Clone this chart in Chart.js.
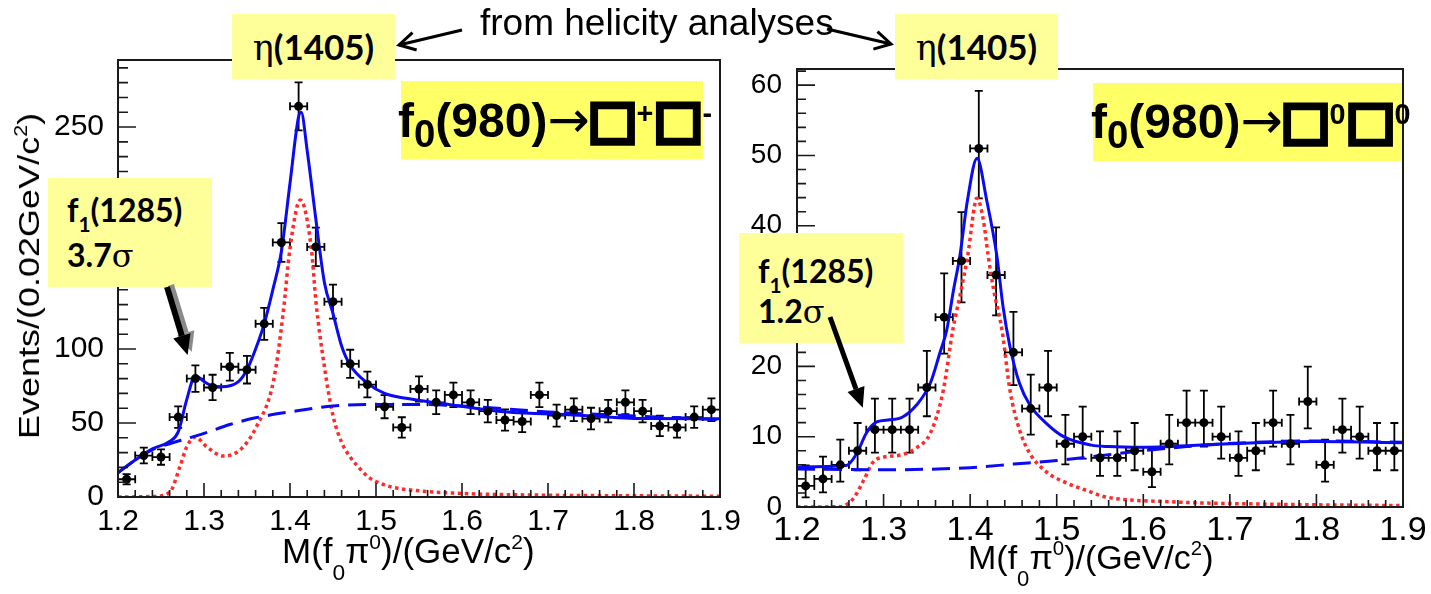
<!DOCTYPE html>
<html>
<head>
<meta charset="utf-8">
<script src="https://cdn.jsdelivr.net/npm/chart.js@4.4.1/dist/chart.umd.min.js"></script>
<style>
  html, body { margin: 0; padding: 0; background: #fff; }
  #stage { position: relative; width: 1431px; height: 594px; overflow: hidden;
           font-family: 'Liberation Sans', Arial, sans-serif; color: #000; }
  canvas { position: absolute; top: 0; }
  #cl { left: 0; }
  #cr { left: 740px; }
  .note { position: absolute; white-space: nowrap; line-height: 1; }
  .pale { position: absolute; background: #ffff99; }
  .bright { position: absolute; background: #ffff66; }
  .cal { font-family: Lato, 'Open Sans', sans-serif; font-weight: 700; }
  .greek { font-family: 'DejaVu Serif', 'Liberation Serif', serif; font-weight: 400; }
  .sb, .sp, .sq, .ar { position: relative; line-height: 0; }
  /* decay labels */
  .big { font-family: 'Liberation Sans', Arial, sans-serif; font-weight: 700; font-size: 48px; }
  .big .sb { font-size: 0.8em; top: 0.26em; }
  .big .sp { font-size: 0.6em; top: -0.47em; margin: 0 2px; }
  .big .ar { font-family: 'DejaVu Sans', sans-serif; font-weight: 400; font-size: 1.05em; }
  .big .sq { font-family: 'DejaVu Sans', sans-serif; font-size: 1.08em; -webkit-text-stroke: 5px #000;
             margin: 0 -2px; }
  /* axis titles */
  .axt .sb { font-size: 0.65em; top: 0.75em; }
  .axt .sp { font-size: 0.6em; top: -0.67em; }
  .cal .sb { font-size: 0.65em; top: 0.5em; }
  #arrows { position: absolute; left: 0; top: 0; }
</style>
</head>
<body>
<div id="stage">
  <canvas id="cl" width="740" height="594"></canvas>
  <canvas id="cr" width="691" height="594"></canvas>

  <!-- axis titles -->
  <div class="note axt" id="ytitle" style="left:29px; top:276px; font-size:30px;
       transform: translate(-50%, -50%) rotate(-90deg) scale(1.2, 1);">Events/(0.02GeV/c<span class="sp">2</span>)</div>
  <div class="note axt" style="left:282px; top:533px; font-size:35px;">M(f<span class="sb">0</span>π<span class="sp">0</span>)/(GeV/c<span class="sp">2</span>)</div>
  <div class="note axt" style="left:968px; top:540px; font-size:34px;">M(f<span class="sb">0</span>π<span class="sp">0</span>)/(GeV/c<span class="sp">2</span>)</div>

  <!-- helicity note and resonance labels -->
  <div class="note" style="left:480px; top:4px; font-size:37px;">from helicity analyses</div>
  <div class="pale" style="left:232px; top:14px; width:163px; height:65px;"></div>
  <div class="note cal" style="left:232px; top:29px; width:163px; text-align:center; font-size:35px;"><span class="greek">η</span>(1405)</div>
  <div class="pale" style="left:895px; top:14px; width:163px; height:65px;"></div>
  <div class="note cal" style="left:895px; top:29px; width:163px; text-align:center; font-size:35px;"><span class="greek">η</span>(1405)</div>

  <div class="bright" style="left:401px; top:81px; width:302px; height:78px;"></div>
  <div class="note big" style="left:398px; top:97px;">f<span class="sb">0</span>(980)<span class="ar">→</span><span class="sq">□</span><span class="sp">+</span><span class="sq">□</span><span class="sp">-</span></div>
  <div class="bright" style="left:1093px; top:83px; width:309px; height:78px;"></div>
  <div class="note big" style="left:1091px; top:98px;">f<span class="sb">0</span>(980)<span class="ar">→</span><span class="sq">□</span><span class="sp">0</span><span class="sq">□</span><span class="sp">0</span></div>

  <div class="pale" style="left:48px; top:178px; width:164px; height:109px;"></div>
  <div class="note cal" style="left:67px; top:194px; font-size:32px;">f<span class="sb">1</span>(1285)</div>
  <div class="note cal" style="left:67px; top:239px; font-size:32px;">3.7<span class="greek">σ</span></div>
  <div class="pale" style="left:739px; top:233px; width:164px; height:110px;"></div>
  <div class="note cal" style="left:758px; top:255px; font-size:32px;">f<span class="sb">1</span>(1285)</div>
  <div class="note cal" style="left:758px; top:295px; font-size:32px;">1.2<span class="greek">σ</span></div>

  <svg id="arrows" width="1431" height="594" xmlns="http://www.w3.org/2000/svg"></svg>
</div>

<script>
// ---- data: M(f0 pi0) spectra, 0.02 GeV/c^2 bins ----
const binCentres = [1.21, 1.23, 1.25, 1.27, 1.29, 1.31, 1.33, 1.35, 1.37, 1.39,
                    1.41, 1.43, 1.45, 1.47, 1.49, 1.51, 1.53, 1.55, 1.57, 1.59,
                    1.61, 1.63, 1.65, 1.67, 1.69, 1.71, 1.73, 1.75, 1.77, 1.79,
                    1.81, 1.83, 1.85, 1.87, 1.89];

// f0(980) -> pi+ pi- channel
const countsCharged = [12, 28, 27, 54, 80, 74, 88, 86, 117, 172,
                       264, 169, 132, 90, 76, 61, 47, 73, 64, 69,
                       64, 58, 52, 51, 69, 55, 59, 53, 58, 64,
                       58, 48, 47, 54, 59];
const errCharged = [3.5, 5.3, 5.2, 7.3, 8.9, 8.6, 9.4, 9.3, 10.8, 13.1,
                    16.2, 13.0, 11.5, 9.5, 8.7, 7.8, 6.9, 8.5, 8.0, 8.3,
                    8.0, 7.6, 7.2, 7.1, 8.3, 7.4, 7.7, 7.3, 7.6, 8.0,
                    7.6, 6.9, 6.9, 7.3, 7.7];
const fitChargedM = [1.20, 1.22, 1.24, 1.26, 1.27, 1.28, 1.29, 1.30, 1.31, 1.32,
                     1.34, 1.35, 1.36, 1.37, 1.38, 1.39, 1.40, 1.41, 1.413, 1.42,
                     1.43, 1.44, 1.45, 1.46, 1.47, 1.49, 1.51, 1.535, 1.575, 1.65,
                     1.73, 1.81, 1.90];
const fitChargedY = [16.4, 25, 32.5, 37.5, 44, 66, 82, 78, 75, 74.5,
                     78, 86, 100, 117, 140, 166, 212, 257, 260, 234,
                     188, 145, 124, 102, 89, 77, 70, 66.7, 63.3, 57.6,
                     55.4, 53, 52.8];
const bkgChargedM = [1.20, 1.22, 1.24, 1.26, 1.28, 1.30, 1.33, 1.36, 1.40, 1.45,
                     1.50, 1.55, 1.60, 1.70, 1.80, 1.90];
const bkgChargedY = [16.4, 25, 32, 36, 39.5, 43, 49, 53.5, 57.5, 61.5,
                     62.5, 62.5, 61.5, 57.5, 54.8, 52.3];
const sigChargedM = [1.20, 1.24, 1.26, 1.272, 1.28, 1.29, 1.303, 1.3225, 1.342, 1.361,
                     1.381, 1.392, 1.40, 1.412, 1.425, 1.43, 1.44, 1.45, 1.46, 1.47,
                     1.48, 1.49, 1.50, 1.52, 1.55, 1.60, 1.70, 1.80, 1.90];
const sigChargedY = [0, 0.3, 3, 20.5, 34, 40.5, 34, 27.7, 31.8, 47.5,
                     79, 124, 168, 200.7, 167, 133, 88, 55, 37, 27,
                     20, 14, 10.5, 6.5, 4.2, 2.4, 1.2, 0.8, 0.5];

// f0(980) -> pi0 pi0 channel
const countsNeutral = [3, 4, 6, 8, 11, 11, 11, 17, 27, 35,
                       51, 33, 22, 14, 17, 9, 10, 7, 7, 8,
                       5, 9, 12, 12, 10, 7, 8, 12, 9, 15,
                       6, 11, 10, 8, 8];
const errLoNeutral = [1.63, 1.91, 2.38, 2.77, 3.27, 3.27, 3.27, 4.09, 5.18, 5.90,
                      7.11, 5.73, 4.67, 3.70, 4.09, 2.94, 3.11, 2.58, 2.58, 2.77,
                      2.16, 2.94, 3.42, 3.42, 3.11, 2.58, 2.77, 3.42, 2.94, 3.83,
                      2.38, 3.27, 3.11, 2.77, 2.77];
const errHiNeutral = [2.92, 3.16, 3.58, 3.95, 4.42, 4.42, 4.42, 5.20, 6.23, 6.94,
                      8.19, 6.77, 5.74, 4.83, 5.20, 4.11, 4.27, 3.77, 3.77, 3.95,
                      3.38, 4.11, 4.56, 4.56, 4.27, 3.77, 3.95, 4.56, 4.11, 4.96,
                      3.58, 4.42, 4.27, 3.95, 3.95];
const fitNeutralM = [1.20, 1.257, 1.269, 1.28, 1.292, 1.307, 1.322, 1.338, 1.354, 1.365,
                     1.373, 1.381, 1.388, 1.397, 1.408, 1.419, 1.431, 1.438, 1.446, 1.457,
                     1.469, 1.488, 1.508, 1.54, 1.56, 1.60, 1.70, 1.80, 1.90];
const fitNeutralY = [5.7, 5.9, 7.6, 10.5, 12.1, 12.4, 12.8, 14.5, 17.6, 21.9,
                     25.2, 31, 35.6, 43.7, 49.6, 43.7, 35.6, 28.5, 22.8, 17.6,
                     14.5, 11.9, 10, 8.8, 8.6, 8.5, 9.0, 9.3, 9.15];
const bkgNeutralM = [1.20, 1.30, 1.40, 1.45, 1.50, 1.55, 1.60, 1.67, 1.75, 1.80, 1.90];
const bkgNeutralY = [5.4, 5.3, 5.6, 6.1, 6.6, 7.3, 8.0, 8.8, 9.3, 9.4, 9.2];
const sigNeutralM = [1.20, 1.25, 1.265, 1.277, 1.288, 1.30, 1.32, 1.338, 1.354, 1.369,
                     1.38, 1.389, 1.397, 1.408, 1.415, 1.421, 1.427, 1.437, 1.446, 1.457,
                     1.469, 1.488, 1.508, 1.538, 1.554, 1.631, 1.746, 1.90];
const sigNeutralY = [0, 0.05, 1.2, 3.8, 6.4, 7.1, 7.4, 8.4, 10.5, 16.6,
                     25.2, 30.5, 35.6, 43.9, 41, 35.6, 31, 25, 16.6, 11,
                     7.6, 5, 3.6, 2.2, 1.5, 0.75, 0.4, 0.2];

// tick labels
const massTicks = [1.2, 1.3, 1.4, 1.5, 1.6, 1.7, 1.8, 1.9];

// ---- plugins ----
const pairs = (xs, ys) => xs.map((x, i) => ({ x, y: ys[i] }));

// Vertical (statistical) and horizontal (bin width) error bars with end caps
const errorBars = {
  id: 'errorBars',
  beforeDatasetsDraw(chart) {
    const ds = chart.data.datasets[0];
    const { ctx, scales: { x, y } } = chart;
    const cap = 4;
    ctx.save();
    ctx.strokeStyle = '#000';
    ctx.lineWidth = 1.8;
    ctx.beginPath();
    ds.data.forEach((p, i) => {
      const px = x.getPixelForValue(p.x), py = y.getPixelForValue(p.y);
      const yl = y.getPixelForValue(p.y - ds.errLo[i]);
      const yh = y.getPixelForValue(p.y + ds.errHi[i]);
      const xl = x.getPixelForValue(p.x - ds.halfBin);
      const xr = x.getPixelForValue(p.x + ds.halfBin);
      ctx.moveTo(px, yl); ctx.lineTo(px, yh);
      ctx.moveTo(xl, py); ctx.lineTo(xr, py);
      ctx.moveTo(px - cap, yl); ctx.lineTo(px + cap, yl);
      ctx.moveTo(px - cap, yh); ctx.lineTo(px + cap, yh);
      ctx.moveTo(xl, py - cap); ctx.lineTo(xl, py + cap);
      ctx.moveTo(xr, py - cap); ctx.lineTo(xr, py + cap);
    });
    ctx.stroke();
    ctx.restore();
  }
};

// Closed frame with inward major/minor ticks on the left and bottom axes
function frameWithTicks(t) {
  return {
    id: 'frameWithTicks',
    afterDatasetsDraw(chart) {
      const { ctx, chartArea: a, scales: { x, y } } = chart;
      ctx.save();
      ctx.strokeStyle = '#1a1a1a';
      ctx.lineWidth = 1.6;
      ctx.beginPath();
      const nx = Math.round((x.max - x.min) / t.xMinor);
      for (let k = 0; k <= nx; k++) {
        const px = x.getPixelForValue(x.min + k * t.xMinor);
        const len = k % t.xPer === 0 ? t.xMajorLen : t.xMinorLen;
        ctx.moveTo(px, a.bottom); ctx.lineTo(px, a.bottom - len);
      }
      for (let k = 0; k * t.yMinor <= y.max + 1e-9; k++) {
        const py = y.getPixelForValue(k * t.yMinor);
        const len = k % t.yPer === 0 ? t.yMajorLen : t.yMinorLen;
        ctx.moveTo(a.left, py); ctx.lineTo(a.left + len, py);
      }
      ctx.stroke();
      ctx.lineWidth = 2;
      ctx.strokeRect(a.left, a.top, a.right - a.left, a.bottom - a.top);
      ctx.restore();
    }
  };
}

function makePanel(canvas, p) {
  return new Chart(canvas, {
    type: 'scatter',
    data: {
      datasets: [
        { label: 'Data', data: pairs(binCentres, p.counts), errLo: p.errLo, errHi: p.errHi, halfBin: 0.01,
          pointRadius: 4.5, pointBackgroundColor: '#000', pointBorderWidth: 0, order: 0 },
        { type: 'line', label: 'Total fit', data: pairs(p.fitM, p.fitY), borderColor: '#0a0af5',
          borderWidth: 3, pointRadius: 0, fill: false, cubicInterpolationMode: 'monotone', order: 1 },
        { type: 'line', label: 'Background', data: pairs(p.bkgM, p.bkgY), borderColor: '#0a0af5',
          borderWidth: 3, borderDash: [18, 9], pointRadius: 0, fill: false, cubicInterpolationMode: 'monotone', order: 2 },
        { type: 'line', label: 'Signal', data: pairs(p.sigM, p.sigY), borderColor: '#ff2a2a',
          borderWidth: 3.5, borderDash: [3.5, 3.5], pointRadius: 0, fill: false, cubicInterpolationMode: 'monotone', order: 3 }
      ]
    },
    options: {
      responsive: false,
      animation: false,
      events: [],
      layout: { padding: { left: 0, right: p.padRight, top: p.padTop, bottom: 0 } },
      plugins: { legend: { display: false }, tooltip: { enabled: false } },
      scales: {
        x: {
          type: 'linear', min: massTicks[0], max: massTicks[massTicks.length - 1],
          grid: { display: false }, border: { display: false },
          ticks: { stepSize: 0.1, autoSkip: false, maxRotation: 0, includeBounds: false,
                   color: '#000', padding: p.xPad,
                   font: { family: 'Liberation Sans', size: p.xFont, lineHeight: 1 },
                   callback: v => {
                     const hit = massTicks.find(m => Math.abs(m - v) < 1e-6);
                     return hit === undefined ? '' : hit.toFixed(1);
                   } },
          afterFit: s => { s.height = p.xAxisH; s.paddingLeft = 0; s.paddingRight = 0; }
        },
        y: {
          type: 'linear', min: 0, max: p.yMax,
          grid: { display: false }, border: { display: false },
          ticks: { stepSize: p.yStep, autoSkip: false, includeBounds: false,
                   color: '#000', padding: p.yPad,
                   font: { family: 'Liberation Sans', size: p.yFont },
                   callback: v => (p.yLabels.includes(v) ? String(v) : '') },
          afterFit: s => { s.width = p.yAxisW; s.paddingTop = 0; s.paddingBottom = 0; }
        }
      }
    },
    plugins: [errorBars, frameWithTicks(p.ticks)]
  });
}

const chartCharged = makePanel(document.getElementById('cl'), {
  counts: countsCharged, errLo: errCharged, errHi: errCharged,
  fitM: fitChargedM, fitY: fitChargedY, bkgM: bkgChargedM, bkgY: bkgChargedY,
  sigM: sigChargedM, sigY: sigChargedY,
  yMax: 295.3, yStep: 50, yLabels: [0, 50, 100, 150, 200, 250],
  padRight: 20, padTop: 60, xAxisH: 97, yAxisW: 118,
  xFont: 30, yFont: 30, xPad: 2, yPad: 6,
  ticks: { xMinor: 0.02, xPer: 5, xMajorLen: 14, xMinorLen: 7, yMinor: 10, yPer: 5, yMajorLen: 18, yMinorLen: 10 }
});

const chartNeutral = makePanel(document.getElementById('cr'), {
  counts: countsNeutral, errLo: errLoNeutral, errHi: errHiNeutral,
  fitM: fitNeutralM, fitY: fitNeutralY, bkgM: bkgNeutralM, bkgY: bkgNeutralY,
  sigM: sigNeutralM, sigY: sigNeutralY,
  yMax: 62.3, yStep: 10, yLabels: [0, 10, 20, 30, 40, 50, 60],
  padRight: 28, padTop: 69, xAxisH: 87, yAxisW: 57,
  xFont: 34, yFont: 28, xPad: -1, yPad: 7,
  ticks: { xMinor: 0.02, xPer: 5, xMajorLen: 13, xMinorLen: 7, yMinor: 2, yPer: 5, yMajorLen: 18, yMinorLen: 9 }
});

// ---- arrows ----
const svg = document.getElementById('arrows');
const NS = 'http://www.w3.org/2000/svg';
function el(tag, attrs) {
  const e = document.createElementNS(NS, tag);
  for (const k in attrs) e.setAttribute(k, attrs[k]);
  svg.appendChild(e);
  return e;
}
function solidArrow(x1, y1, x2, y2, w, headLen, headHalf, color) {
  const L = Math.hypot(x2 - x1, y2 - y1), ux = (x2 - x1) / L, uy = (y2 - y1) / L;
  const bx = x2 - ux * headLen, by = y2 - uy * headLen;
  el('line', { x1, y1, x2: bx, y2: by, stroke: color, 'stroke-width': w });
  el('polygon', { fill: color, points:
    `${x2},${y2} ${bx - uy * headHalf},${by + ux * headHalf} ${bx + uy * headHalf},${by - ux * headHalf}` });
}
function openArrow(x1, y1, x2, y2, w, armLen, armHalf) {
  const L = Math.hypot(x2 - x1, y2 - y1), ux = (x2 - x1) / L, uy = (y2 - y1) / L;
  const bx = x2 - ux * armLen, by = y2 - uy * armLen;
  el('polyline', { fill: 'none', stroke: '#000', 'stroke-width': w,
    points: `${x1},${y1} ${x2},${y2}` });
  el('polyline', { fill: 'none', stroke: '#000', 'stroke-width': w, 'stroke-linejoin': 'miter',
    points: `${bx - uy * armHalf},${by + ux * armHalf} ${x2},${y2} ${bx + uy * armHalf},${by - ux * armHalf}` });
}

// "from helicity analyses" pointers to the two eta(1405) labels
openArrow(462, 30, 399, 45, 3, 16, 9);
openArrow(827, 29, 891, 44, 3, 16, 9);

// f1(1285) pointers, tips anchored at the bump in each spectrum
const f1TipCharged = [chartCharged.scales.x.getPixelForValue(1.281), chartCharged.scales.y.getPixelForValue(96)];
const f1TipNeutral = [740 + chartNeutral.scales.x.getPixelForValue(1.276), chartNeutral.scales.y.getPixelForValue(14.1)];
solidArrow(171, 285, f1TipCharged[0] + 4, f1TipCharged[1] - 3, 6, 20, 9, '#8a8a8a');
solidArrow(167, 287, f1TipCharged[0], f1TipCharged[1], 6, 20, 9, '#000');
solidArrow(830, 317, f1TipNeutral[0], f1TipNeutral[1], 5, 20, 9, '#000');
</script>
</body>
</html>
